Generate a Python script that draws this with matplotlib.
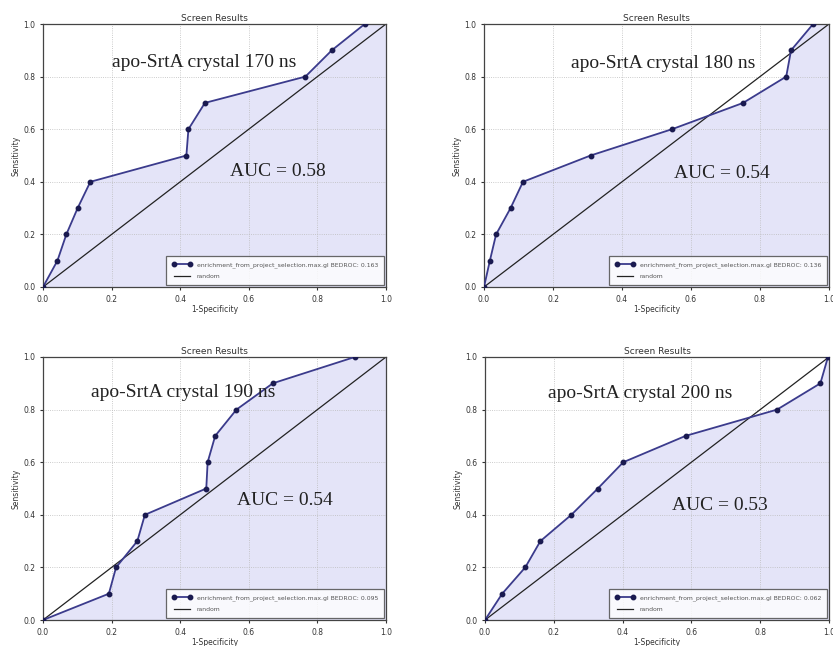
"""ROC curves - apo-SrtA crystal snapshots"""
import numpy as np
import matplotlib
matplotlib.use("Agg")
import matplotlib.pyplot as plt

# ── data ──
fpr_170 = [0.0, 0.042, 0.068, 0.101, 0.138, 0.418, 0.424, 0.472, 0.765, 0.842, 0.938]
fpr_180 = [0.0, 0.017, 0.035, 0.077, 0.113, 0.309, 0.545, 0.751, 0.876, 0.890, 0.954]
fpr_190 = [0.0, 0.192, 0.213, 0.275, 0.297, 0.476, 0.480, 0.502, 0.564, 0.670, 0.909]
fpr_200 = [0.0, 0.050, 0.117, 0.161, 0.251, 0.328, 0.402, 0.583, 0.849, 0.975, 0.997]
tpr = [0.0, 0.1, 0.2, 0.3, 0.4, 0.5, 0.6, 0.7, 0.8, 0.9, 1.0]

labels = ["apo-SrtA crystal 170 ns", "apo-SrtA crystal 180 ns",
          "apo-SrtA crystal 190 ns", "apo-SrtA crystal 200 ns"]
aucs = ["0.58", "0.54", "0.54", "0.53"]
bedroc = ["0.163", "0.136", "0.095", "0.062"]
ticks = [0.0, 0.2, 0.4, 0.6, 0.8, 1.0]

# annotation positions (data coords)
lab_pos = [(0.47, 0.855), (0.52, 0.85), (0.41, 0.865), (0.45, 0.86)]
auc_pos = [(0.685, 0.44), (0.69, 0.43), (0.705, 0.456), (0.683, 0.437)]

fig = plt.figure(figsize=(8.33, 6.46), dpi=100)
W, H = 833, 646
boxes = [(43, 24, 386, 287), (484, 24, 829, 287),
         (43, 357, 386, 620), (485, 357, 829, 620)]

all_fpr = [fpr_170, fpr_180, fpr_190, fpr_200]
for i, (x0, y0, x1, y1) in enumerate(boxes):
    ax = fig.add_axes([x0 / W, 1 - y1 / H, (x1 - x0) / W, (y1 - y0) / H])
    x = all_fpr[i]
    ax.fill_between(x + [1.0], tpr + [1.0], color="#e4e4f8", zorder=1)
    ax.plot(x, tpr, "-o", color="#3b3b8c", mfc="#1a1a50", mec="#1a1a50",
            ms=3.2, lw=1.3, zorder=3,
            label=f"enrichment_from_project_selection.max.gl BEDROC: {bedroc[i]}")
    ax.plot([0, 1], [0, 1], color="#222222", lw=0.9, zorder=2, label="random")
    ax.set_xlim(0, 1)
    ax.set_ylim(0, 1)
    ax.set_xticks(ticks)
    ax.set_yticks(ticks)
    ax.grid(True, color="#bbbbbb", ls=":", lw=0.6)
    ax.tick_params(labelsize=5.5, colors="#333333", length=2)
    ax.set_title("Screen Results", fontsize=6.5, pad=2, color="#333333")
    ax.set_xlabel("1-Specificity", fontsize=5.5, labelpad=1, color="#333333")
    ax.set_ylabel("Sensitivity", fontsize=5.5, labelpad=2, color="#333333")
    for s in ax.spines.values():
        s.set_color("#444444")
        s.set_linewidth(0.9)
    leg = ax.legend(loc="lower right", fontsize=4.4, numpoints=2, frameon=True,
                    fancybox=False, edgecolor="#444444", borderpad=1.0,
                    handlelength=3.2, labelspacing=1.0, borderaxespad=0.3)
    leg.get_frame().set_linewidth(0.9)
    for t in leg.get_texts():
        t.set_color("#555555")
    ax.text(*lab_pos[i], labels[i], family="Liberation Serif", fontsize=14,
            ha="center", va="center", color="#222222", zorder=4)
    ax.text(*auc_pos[i], f"AUC = {aucs[i]}", family="Liberation Serif",
            fontsize=14, ha="center", va="center", color="#222222", zorder=4)

plt.savefig("out.png", dpi=100)
